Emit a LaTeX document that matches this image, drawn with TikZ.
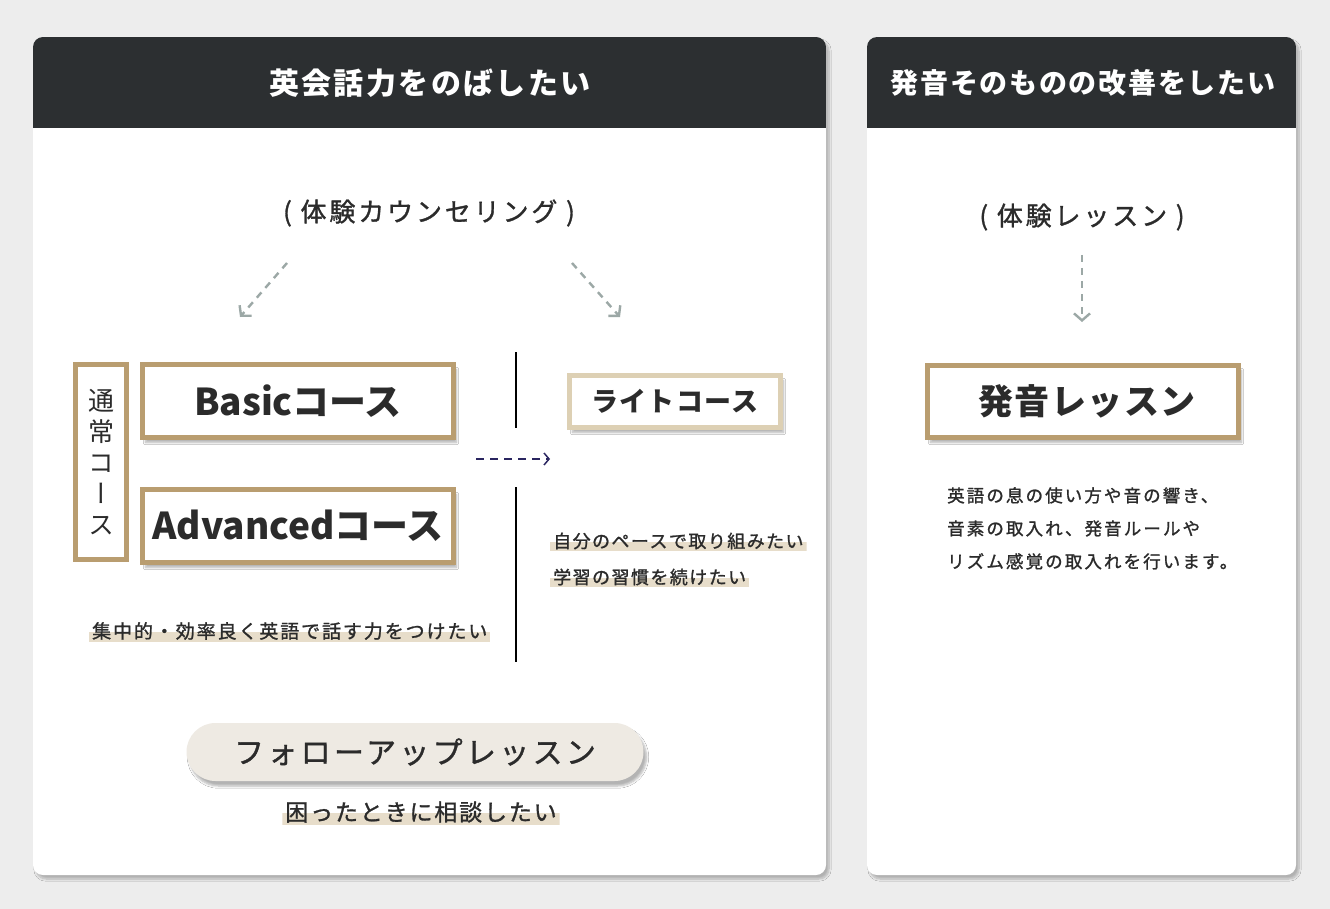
\documentclass[tikz,border=0pt]{standalone}
\usepackage{fontspec}
\setmainfont{Noto Sans CJK JP}
\newfontfamily\jpv[RawFeature=+vert]{Noto Sans CJK JP}
\newfontfamily\jpm[FakeBold=1.2]{Noto Sans CJK JP}
\usetikzlibrary{arrows.meta,shadows.blur,calc}
\definecolor{bg}{HTML}{EDEDED}
\definecolor{hdr}{HTML}{2C2F31}
\definecolor{ink}{HTML}{2B2B2B}
\definecolor{tan}{HTML}{B99D70}
\definecolor{ltan}{HTML}{DDD0B4}
\definecolor{hlc}{HTML}{E7DDCA}
\definecolor{pill}{HTML}{EEEAE3}
\definecolor{agray}{HTML}{9CA8A6}
\definecolor{navy}{HTML}{2A2560}
\tikzset{
  panel/.style={fill=white, rounded corners=10pt, blur shadow={shadow xshift=3pt, shadow yshift=-4pt, shadow blur steps=8, shadow opacity=25}},
  hdrtext/.style={text=white, font=\bfseries\fontsize{30}{32}\selectfont\addfontfeature{LetterSpace=8}},
  subtext/.style={text=ink, font=\jpm\fontsize{26}{28}\selectfont\addfontfeature{LetterSpace=11}},
  cbox/.style={draw=tan, line width=5pt, fill=white, text=ink, inner sep=0pt,
    blur shadow={shadow xshift=3pt, shadow yshift=-5pt, shadow blur steps=6, shadow opacity=30}},
  bigtext/.style={font=\bfseries\fontsize{37}{40}\selectfont},
  hltext/.style={text=ink, inner xsep=3pt, inner ysep=2pt, font=\jpm\fontsize{18}{20}\selectfont\addfontfeature{LetterSpace=8},
    path picture={\fill[hlc] ($(path picture bounding box.west)+(0,1)$) rectangle (path picture bounding box.south east);}},
  garrow/.style={draw=agray, line width=2.4pt, dash pattern=on 7pt off 6pt, -{Straight Barb[length=7pt, width=16pt, line width=2.4pt]}},
}
\begin{document}
\begin{tikzpicture}[x=1pt,y=-1pt]
\useasboundingbox (0,0) rectangle (1330,909);
\fill[bg] (0,0) rectangle (1330,909);
% panels
\path[panel] (33,37) rectangle (826,875);
\path[panel] (867,37) rectangle (1296,875);
\begin{scope}
  \clip[rounded corners=10pt] (33,37) rectangle (826,875);
  \fill[hdr] (33,37) rectangle (826,128);
\end{scope}
\begin{scope}
  \clip[rounded corners=10pt] (867,37) rectangle (1296,875);
  \fill[hdr] (867,37) rectangle (1296,128);
\end{scope}
\node[hdrtext] (h1) at (430,83) {英会話力をのばしたい};
\node[hdrtext, font=\bfseries\fontsize{28}{30}\selectfont\addfontfeature{LetterSpace=6}] (h2) at (1083,83) {発音そのものの改善をしたい};

% left panel
\node[subtext] (c1) at (429,213) {( 体験カウンセリング )};
\coordinate (a1s) at (287,263);
\coordinate (a1e) at (240,317);
\coordinate (a2s) at (572,263);
\coordinate (a2e) at (620,317);
\draw[garrow] (a1s) -- (a1e);
\draw[garrow] (a2s) -- (a2e);

\node[draw=tan, line width=5pt, fill=white, minimum width=51pt, minimum height=195pt, inner sep=0pt,
  align=center, text=ink, font=\jpv\fontsize{26}{31}\selectfont] (tate) at (101,462) {通\\常\\コ\\ー\\ス};
\node[cbox, bigtext, minimum width=311pt, minimum height=73pt] (basic) at (298,401) {Basicコース};
\node[cbox, bigtext, minimum width=311pt, minimum height=73pt] (adv) at (298,526) {Advancedコース};

\coordinate (v1a) at (516,352);
\coordinate (v1b) at (516,428);
\coordinate (v2a) at (516,487);
\coordinate (v2b) at (516,662);
\draw[line width=1.6pt, black] (v1a) -- (v1b);
\draw[line width=1.6pt, black] (v2a) -- (v2b);

\coordinate (ns) at (476,459);
\coordinate (ne) at (550,459);
\draw[navy, line width=1.5pt, dash pattern=on 8pt off 6pt, -{Straight Barb[length=5pt, width=12pt, line width=1.5pt]}] (ns) -- (ne);

\node[cbox, draw=ltan, minimum width=211pt, minimum height=52pt,
  font=\bfseries\fontsize{27}{30}\selectfont\addfontfeature{LetterSpace=5}] (lite) at (675,401.5) {ライトコース};

\node[hltext, anchor=west] (t1) at (550,541) {自分のペースで取り組みたい};
\node[hltext, anchor=west] (t2) at (550,577) {学習の習慣を続けたい};
\node[hltext, anchor=west, font=\jpm\fontsize{19}{20}\selectfont\addfontfeature{LetterSpace=10}] (t3) at (89,631) {集中的・効率良く英語で話す力をつけたい};

\node[fill=pill, rounded corners=29pt, minimum width=457pt, minimum height=58pt, inner sep=0pt, text=ink,
  font=\jpm\fontsize{30}{32}\selectfont\addfontfeature{LetterSpace=11},
  blur shadow={shadow xshift=3pt, shadow yshift=-5pt, shadow blur steps=6, shadow opacity=30}] (follow) at (415,752) {フォローアップレッスン};
\node[hltext, font=\jpm\fontsize{23}{24}\selectfont\addfontfeature{LetterSpace=8}] (t4) at (421,812) {困ったときに相談したい};

% right panel
\node[subtext] (c2) at (1082,217) {( 体験レッスン )};
\coordinate (a3s) at (1082,255);
\coordinate (a3e) at (1082,322);
\draw[garrow] (a3s) -- (a3e);
\node[cbox, minimum width=311pt, minimum height=72pt,
  font=\bfseries\fontsize{35}{40}\selectfont\addfontfeature{LetterSpace=4}] (hatsu) at (1083,401.5) {\hspace*{8pt}発音レッスン};
\node[anchor=north west, align=left, inner sep=0pt, text=ink,
  font=\jpm\fontsize{17.5}{33}\selectfont\addfontfeature{LetterSpace=12}] (para) at (947,487)
  {英語の息の使い方や音の響き、\\音素の取入れ、発音ルールや\\リズム感覚の取入れを行います。};
\end{tikzpicture}
\end{document}
